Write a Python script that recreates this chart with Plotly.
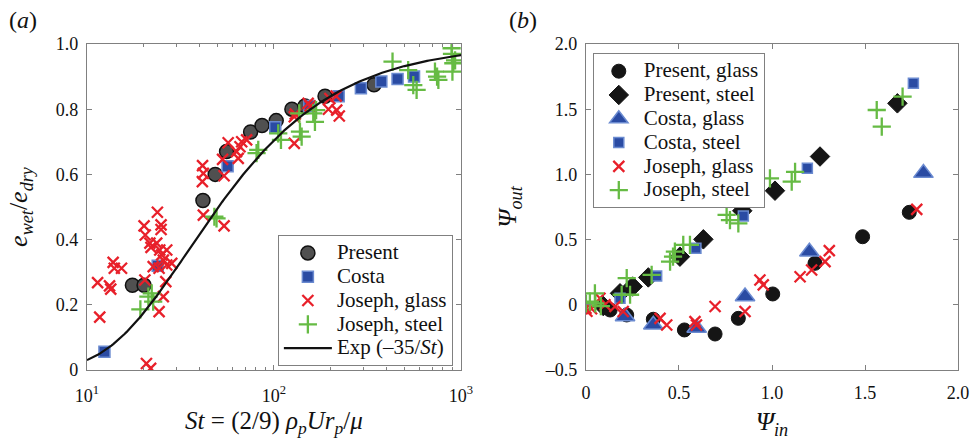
import numpy as np
import plotly.graph_objects as go

# ---------------- panel (a): e_wet/e_dry versus St ----------------
present_st = [17.5, 20.2, 41.7, 48.5, 55.8, 75, 86.3, 102.8, 124.7, 146.5, 187.5, 342.7]
present_e = [0.26, 0.26, 0.52, 0.60, 0.67, 0.73, 0.75, 0.765, 0.80, 0.81, 0.84, 0.875]

costa_st = [12.4, 23.9, 56.5, 101.6, 154.5, 221.8, 291.6, 375, 458, 561]
costa_e = [0.056, 0.32, 0.625, 0.745, 0.81, 0.84, 0.864, 0.885, 0.893, 0.90]

jg_st = [11.4, 11.7, 13.8, 14.0, 13.2, 13.4, 15.3, 20.2, 20.5, 20.4, 20.8, 21.9,
         21.7, 22.0, 22.6, 23.8, 24.9, 24.9, 23.6, 24.5, 25.1, 26.7, 25.6, 26.7,
         24.3, 28.4, 26.4, 25.6, 24.3, 41.9, 54.1, 41.5, 41.9, 41.4, 54.1, 53.1,
         56.9, 63.0, 64.4, 65.8, 67.2, 71.4, 128.4, 128.4, 130, 152.3, 156,
         195.5, 216.5, 223.5, 199, 215]
jg_e = [0.268, 0.162, 0.33, 0.312, 0.258, 0.248, 0.312, 0.442, 0.414, 0.276, 0.02, 0.005,
        0.389, 0.376, 0.317, 0.484, 0.445, 0.431, 0.389, 0.368, 0.353, 0.368, 0.337, 0.322,
        0.312, 0.327, 0.271, 0.225, 0.179, 0.475, 0.442, 0.627, 0.603, 0.578, 0.596, 0.646,
        0.697, 0.67, 0.649, 0.685, 0.70, 0.706, 0.695, 0.777, 0.785, 0.818, 0.81,
        0.80, 0.797, 0.779, 0.833, 0.84]

js_st = [19.3, 21.3, 22.2, 22.6, 49.3, 48.0, 80.7, 82.4, 105.4, 109, 136.5, 137.7,
         140.6, 162.2, 165.6, 168, 430.5, 522, 555.8, 579, 726, 757, 745, 891, 895,
         910, 900, 930]
js_e = [0.186, 0.225, 0.235, 0.21, 0.465, 0.47, 0.665, 0.675, 0.726, 0.706, 0.787, 0.731,
        0.716, 0.787, 0.761, 0.797, 0.946, 0.92, 0.874, 0.859, 0.915, 0.89, 0.90, 0.987, 0.97,
        0.941, 0.915, 0.95]

# model curve e_wet/e_dry = exp(-35/St)
model_st = np.logspace(1, 3, 200)
model_e = np.exp(-35.0 / model_st)

# ---------------- panel (b): Psi_out versus Psi_in ----------------
pg_in = [0.13, 0.219, 0.362, 0.529, 0.694, 0.819, 1.004, 1.231, 1.487, 1.738]
pg_out = [-0.04, -0.078, -0.111, -0.193, -0.224, -0.104, 0.083, 0.318, 0.522, 0.709]

ps_in = [0.093, 0.183, 0.251, 0.335, 0.505, 0.631, 0.840, 1.016, 1.258, 1.674]
ps_out = [-0.01, 0.088, 0.14, 0.21, 0.369, 0.502, 0.721, 0.875, 1.137, 1.545]

cg_in = [0.210, 0.362, 0.595, 0.855, 1.201, 1.814]
cg_out = [-0.09, -0.153, -0.178, 0.064, 0.407, 1.01]

cs_in = [0.183, 0.380, 0.591, 0.846, 1.190, 1.760]
cs_out = [0.05, 0.221, 0.433, 0.681, 1.047, 1.699]

jgb_in = [0.0, 0.005, 0.03, 0.075, 0.102, 0.156, 0.2, 0.398, 0.434, 0.586, 0.594,
          0.694, 0.855, 0.935, 0.953, 1.151, 1.213, 1.285, 1.308, 1.778]
jgb_out = [-0.027, -0.05, -0.03, 0.05, 0.0, -0.013, -0.051, -0.104, -0.155, -0.129, -0.155,
           -0.013, -0.051, 0.19, 0.153, 0.215, 0.267, 0.331, 0.415, 0.732]

jsb_in = [0.0, 0.021, 0.048, 0.05, 0.08, 0.192, 0.219, 0.237, 0.353, 0.452, 0.468, 0.478,
          0.523, 0.559, 0.756, 0.774, 0.819, 0.989, 1.106, 1.124, 1.563, 1.590, 1.702]
jsb_out = [0.01, 0.025, 0.088, 0.01, -0.01, 0.077, 0.205, 0.077, 0.229, 0.331, 0.369, 0.407,
           0.459, 0.459, 0.689, 0.65, 0.625, 0.97, 0.944, 1.02, 1.494, 1.366, 1.596]

RED = "#e8202a"
GREEN = "#66bb44"
BLUE = "#2a4ba3"
BLUE_EDGE = "#6a8ad0"
FONT = "'Liberation Serif', 'Times New Roman', 'DejaVu Serif', serif"


def entry(label):
    # legend rows stay compact (row height follows legend font size) while the text is larger
    return '<span style="font-size:21px">' + label + "</span>"


fig = go.Figure()

# panel (a) traces
fig.add_trace(go.Scatter(x=present_st, y=present_e, mode="markers", name=entry("Present"),
                         marker=dict(symbol="circle", size=14, color="#505050",
                                     line=dict(color="#111111", width=1.5)),
                         xaxis="x", yaxis="y", legend="legend"))
fig.add_trace(go.Scatter(x=costa_st, y=costa_e, mode="markers", name=entry("Costa"),
                         marker=dict(symbol="square", size=11, color=BLUE,
                                     line=dict(color=BLUE_EDGE, width=1.5)),
                         xaxis="x", yaxis="y", legend="legend"))
fig.add_trace(go.Scatter(x=jg_st, y=jg_e, mode="markers", name=entry("Joseph, glass"),
                         marker=dict(symbol="x-thin-open", size=11, color=RED,
                                     line=dict(color=RED, width=2.3)),
                         xaxis="x", yaxis="y", legend="legend"))
fig.add_trace(go.Scatter(x=js_st, y=js_e, mode="markers", name=entry("Joseph, steel"),
                         marker=dict(symbol="cross-thin-open", size=13, color=GREEN,
                                     line=dict(color=GREEN, width=2.3)),
                         xaxis="x", yaxis="y", legend="legend"))
fig.add_trace(go.Scatter(x=model_st, y=model_e, mode="lines",
                         name=entry("Exp (\u201335/<i>St</i>)"),
                         line=dict(color="#111111", width=2.2),
                         xaxis="x", yaxis="y", legend="legend"))

# panel (b) traces
fig.add_trace(go.Scatter(x=pg_in, y=pg_out, mode="markers", name=entry("Present, glass"),
                         marker=dict(symbol="circle", size=14, color="#151515",
                                     line=dict(color="#151515", width=1)),
                         xaxis="x2", yaxis="y2", legend="legend2"))
fig.add_trace(go.Scatter(x=ps_in, y=ps_out, mode="markers", name=entry("Present, steel"),
                         marker=dict(symbol="diamond", size=15, color="#151515",
                                     line=dict(color="#151515", width=1)),
                         xaxis="x2", yaxis="y2", legend="legend2"))
fig.add_trace(go.Scatter(x=cg_in, y=cg_out, mode="markers", name=entry("Costa, glass"),
                         marker=dict(symbol="triangle-up", size=17, color=BLUE,
                                     line=dict(color=BLUE_EDGE, width=1.5)),
                         xaxis="x2", yaxis="y2", legend="legend2"))
fig.add_trace(go.Scatter(x=cs_in, y=cs_out, mode="markers", name=entry("Costa, steel"),
                         marker=dict(symbol="square", size=10, color=BLUE,
                                     line=dict(color=BLUE_EDGE, width=1.5)),
                         xaxis="x2", yaxis="y2", legend="legend2"))
fig.add_trace(go.Scatter(x=jgb_in, y=jgb_out, mode="markers", name=entry("Joseph, glass"),
                         marker=dict(symbol="x-thin-open", size=11, color=RED,
                                     line=dict(color=RED, width=2.3)),
                         xaxis="x2", yaxis="y2", legend="legend2"))
fig.add_trace(go.Scatter(x=jsb_in, y=jsb_out, mode="markers", name=entry("Joseph, steel"),
                         marker=dict(symbol="cross-thin-open", size=13, color=GREEN,
                                     line=dict(color=GREEN, width=2.3)),
                         xaxis="x2", yaxis="y2", legend="legend2"))

axis_common = dict(showline=True, linecolor="#808080", linewidth=1.2, mirror="ticks",
                   ticks="inside", ticklen=5, tickcolor="#808080", showgrid=False,
                   zeroline=False, automargin=False,
                   tickfont=dict(family=FONT, size=18, color="#111111"))

major_x = [10, 100, 1000]
major_x_text = ["10<sup>1</sup>", "10<sup>2</sup>", "10<sup>3</sup>"]
minor_x = [v * m for v in (10, 100) for m in range(2, 10)]

fig.update_layout(
    width=975, height=444,
    margin=dict(l=0, r=0, t=0, b=0),
    paper_bgcolor="white", plot_bgcolor="white",
    font=dict(family=FONT, size=18, color="#111111"),
    xaxis=dict(domain=[0.0892, 0.4728], type="log", range=[1, 3],
               tickvals=major_x, ticktext=major_x_text, ticklabelstandoff=9,
               minor=dict(tickvals=minor_x, ticks="inside", ticklen=3, tickcolor="#808080"),
               title=dict(text="<i>St</i> = (2/9) <i>\u03c1<sub>p</sub>Ur<sub>p</sub></i>/<i>\u03bc</i>",
                          font=dict(family=FONT, size=25), standoff=6),
               anchor="y", **axis_common),
    yaxis=dict(domain=[0.1667, 0.9009], range=[0, 1.0], tickvals=[0, 0.2, 0.4, 0.6, 0.8, 1.0],
               ticktext=["0", "0.2", "0.4", "0.6", "0.8", "1.0"], ticklabelstandoff=4,
               title=dict(text="<i>e<sub>wet</sub></i>/<i>e<sub>dry</sub></i>",
                          font=dict(family=FONT, size=26), standoff=20),
               anchor="x", **axis_common),
    xaxis2=dict(domain=[0.601, 0.9826], range=[0, 2.0], tickvals=[0, 0.5, 1.0, 1.5, 2.0],
                ticktext=["0", "0.5", "1.0", "1.5", "2.0"], ticklabelstandoff=6,
                title=dict(text="<i>\u03a8<sub>in</sub></i>", font=dict(family=FONT, size=26),
                           standoff=10),
                anchor="y2", **axis_common),
    yaxis2=dict(domain=[0.1667, 0.9009], range=[-0.5, 2.0],
                tickvals=[-0.5, 0, 0.5, 1.0, 1.5, 2.0], ticklabelstandoff=4,
                ticktext=["\u20130.5", "0", "0.5", "1.0", "1.5", "2.0"],
                title=dict(text="<i>\u03a8<sub>out</sub></i>", font=dict(family=FONT, size=26),
                           standoff=20),
                anchor="x2", **axis_common),
    legend=dict(x=0.285, y=0.4707, xanchor="left", yanchor="top",
                bgcolor="white", bordercolor="#808080", borderwidth=1,
                font=dict(family=FONT, size=16), itemwidth=48, tracegroupgap=0),
    legend2=dict(x=0.608, y=0.880, xanchor="left", yanchor="top",
                 bgcolor="white", bordercolor="#808080", borderwidth=1,
                 font=dict(family=FONT, size=16), itemwidth=40, tracegroupgap=0),
    showlegend=True,
    annotations=[
        dict(text="(<i>a</i>)", x=7 / 975, y=1 - 20 / 444, xref="paper", yref="paper",
             xanchor="left", yanchor="middle", showarrow=False,
             font=dict(family=FONT, size=24)),
        dict(text="(<i>b</i>)", x=507 / 975, y=1 - 20 / 444, xref="paper", yref="paper",
             xanchor="left", yanchor="middle", showarrow=False,
             font=dict(family=FONT, size=24)),
    ],
)

fig.write_html("out.html")
